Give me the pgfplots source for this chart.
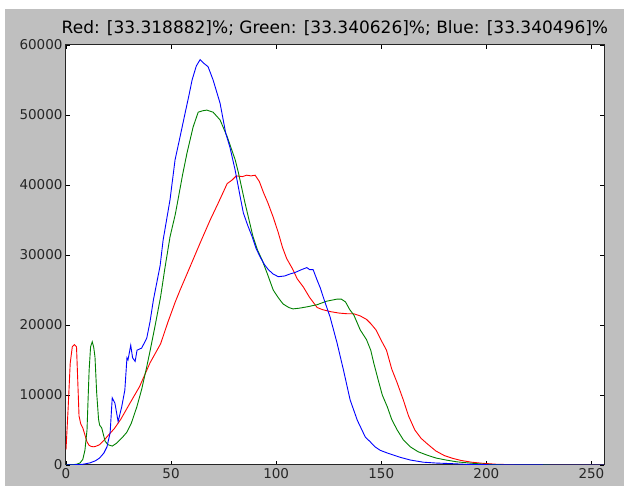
\documentclass[border=0pt]{standalone}
\usepackage{pgfplots}
\pgfplotsset{compat=1.18}
\usepackage{fontspec}
\setmainfont{DejaVu Sans}
\definecolor{bg}{RGB}{191,191,191}
\definecolor{mplgreen}{RGB}{0,128,0}
\definecolor{mplred}{RGB}{255,0,0}
\definecolor{mplblue}{RGB}{0,0,255}
\begin{document}
\begin{tikzpicture}[x=1pt,y=1pt]
\fill[white] (0,0) rectangle (624,486);
\fill[bg] (5,0) rectangle (624,477);
\begin{axis}[
  at={(66pt,21pt)}, anchor=south west,
  scale only axis, width=538pt, height=420pt,
  xmin=0, xmax=256, ymin=0, ymax=60000,
  axis background/.style={fill=white},
  xtick={0,50,...,250}, ytick={0,10000,...,60000},
  tick align=inside, major tick length=4pt,
  scaled y ticks=false,
  /pgf/number format/1000 sep={},
  /pgf/number format/assume math mode=true,
  ticklabel style={font=\fontsize{13.5}{15}\selectfont, color=black!85},
  tick style={black, line width=0.6pt},
  title={Red: [33.318882]\%; Green: [33.340626]\%; Blue: [33.340496]\%},
  title style={font=\fontsize{17}{20}\selectfont, at={(0.5,1)}, anchor=south, yshift=0pt},
  axis line style={line width=1pt, black!85},
  every axis plot/.append style={line width=0.9pt, mark=none},
]
\addplot[mplred] coordinates {
(0,2200) (1,8000) (2,14500) (3,16900) (4,17200) (5,16900) (5.6,12000) (6.2,7000)
(7,5900) (8,5300) (9,4300) (10,3300) (11,2800) (12,2650) (13,2600) (14,2650)
(16,2900) (18,3500) (20,4200) (23,5200) (26,6500) (30,8600) (35,11200) (40,14600)
(45,17300) (48.6,20500) (52,23300) (54.3,25000) (59,28300) (63.8,31700) (68.6,35000)
(72.4,37400) (76.7,40200) (79,40700) (81,41300) (84,41200) (86,41400) (88,41300)
(90,41400) (92,40500) (94,38900) (96,37500) (98.6,35400) (101,33200) (103,31100)
(105,29500) (108,27900) (110,26600) (113,25400) (116,23900) (119.5,22500) (122,22200)
(126,21900) (130,21700) (134,21600) (137,21600) (140,21300) (143,20800) (145,20200)
(147.5,19300) (150,17800) (152.5,16400) (155,13700) (157.5,11800) (160.5,9300)
(163,7000) (166,5000) (169,3800) (172,3000) (176,2000) (180,1350) (184,950)
(188,650) (193,400) (198,250) (205,100) (215,30) (230,0) (256,0)
};
\addplot[mplgreen] coordinates {
(0,0) (3,50) (5,100) (6.7,300) (8,800) (9,2100) (10,5000) (10.5,9300) (11,13500)
(11.7,16900) (12.5,17600) (13.2,16800) (13.8,15400) (14.6,10300) (15.5,6500)
(16,5700) (17,5300) (18.6,3400) (20,2900) (22,2700) (24,3100) (25.7,3600) (27,4000)
(29,4700) (31,5900) (33.7,8300) (36,10800) (38.4,14000) (40,16300) (42.4,19900)
(45,24000) (47,28000) (49.5,32600) (52,35800) (53.3,37900) (55.5,41500) (57.6,44600)
(60.5,48300) (62.9,50400) (65,50600) (67,50700) (70,50400) (73.3,49300) (76.7,46900)
(80.5,43600) (82,41800) (85.2,37400) (89,32600) (91,30800) (93.3,29300) (95.7,27400)
(98.6,25000) (101,23900) (103.3,23000) (106,22500) (108,22300) (111,22400)
(114.8,22600) (119.5,22900) (124,23400) (129,23700) (131,23700) (133,23300)
(135,22200) (137,21400) (140,19300) (143,17900) (145,16400) (146.5,14500)
(148.6,12100) (150.5,10000) (152.9,8300) (155,6500) (157.6,5000) (160.5,3600)
(163.8,2600) (167.5,1900) (171.9,1400) (176,1000) (181,700) (186,450) (192,280)
(198,130) (205,50) (215,10) (256,0)
};
\addplot[mplblue] coordinates {
(0,0) (5,50) (8,100) (11.4,300) (14,600) (16,1000) (18,1700) (19.5,2600) (21,4600)
(22,9600) (23.3,8800) (24.8,6200) (26.5,8300) (28,10700) (29,15300) (29.5,15000)
(30.8,17100) (31.7,15300) (32.9,14800) (33.8,16400) (36,16700) (38.4,18100)
(40,20500) (41.6,23600) (44.8,28500) (46.2,32100) (49.5,37900) (51.9,43600)
(54,46500) (56.7,50300) (58.5,52800) (60,55000) (62,57000) (63.8,57900) (65.5,57400)
(67.6,56900) (70,55000) (73.3,51700) (76,47400) (78,45400) (80.5,42100) (82.9,38300)
(84.4,36000) (86.5,34200) (88.6,32600) (90.5,30900) (92.4,29700) (94.5,28600)
(96.3,27900) (98.5,27300) (101,26900) (104,27000) (106.7,27300) (109,27500)
(112,27900) (114.6,28200) (116,27900) (117.6,27900) (119.5,26400) (121,25300)
(122.4,24000) (125.7,21100) (129,17400) (132,13600) (135.2,9300) (138.6,6400)
(142.4,4000) (144.8,3300) (147,2600) (149.5,2100) (153,1700) (159,1100) (164,700)
(170,400) (176,280) (183,200) (190,100) (198,50) (210,10) (256,0)
};
\end{axis}
\end{tikzpicture}
\end{document}
